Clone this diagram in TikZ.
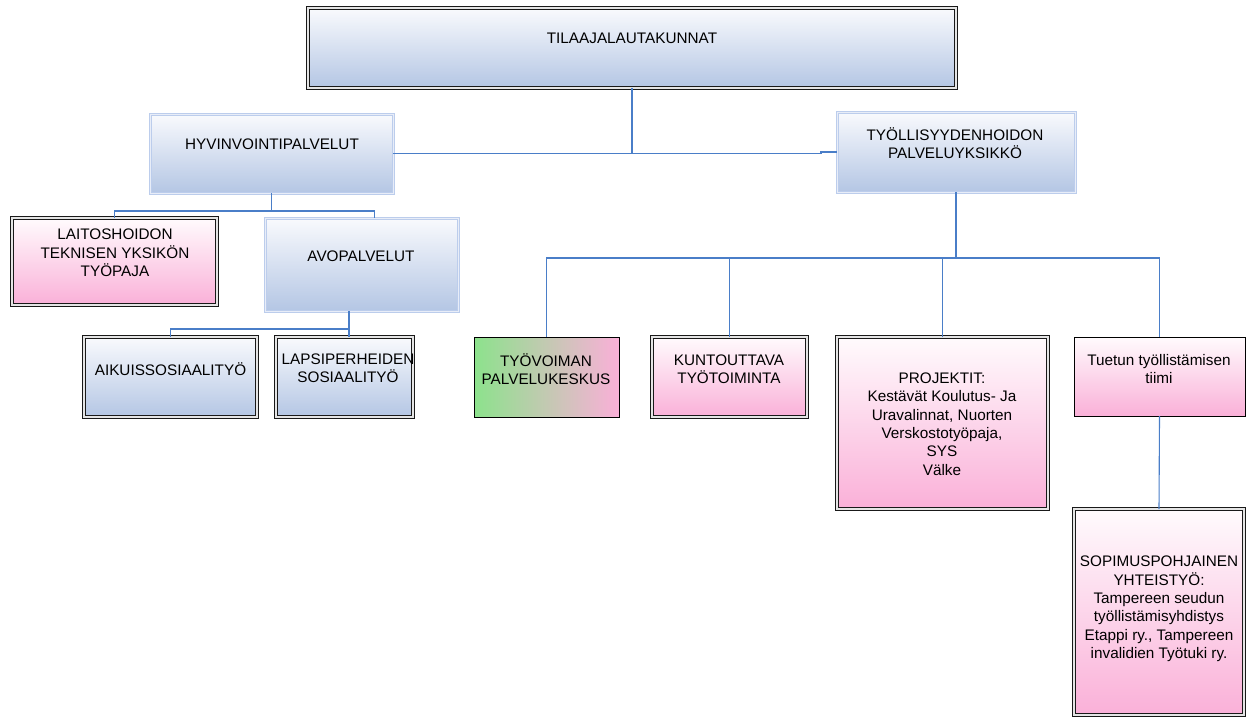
\documentclass[tikz,border=0pt]{standalone}
\usepackage{fontspec}
\setmainfont{Liberation Sans}
\usetikzlibrary{calc}
\definecolor{lineblue}{RGB}{74,126,200}
\definecolor{bluebot}{RGB}{180,198,228}
\definecolor{bluetop}{RGB}{249,250,253}
\definecolor{pinkbot}{RGB}{250,176,216}
\definecolor{pinktop}{RGB}{255,251,253}
\definecolor{greenl}{RGB}{140,226,140}
\definecolor{glowc}{RGB}{188,205,236}
\begin{document}
\begin{tikzpicture}[x=1pt,y=-1pt,
  boxbase/.style={rectangle, inner sep=0pt, outer sep=0pt},
  bluedbl/.style={boxbase, top color=bluetop, bottom color=bluebot, draw=black!90, double=white!80!gray, double distance=1.3pt, line width=1.1pt},
  blueglow/.style={boxbase, top color=bluetop, bottom color=bluebot, draw=glowc, double=glowc!35!white, double distance=0.8pt, line width=1.1pt},
  pinkdbl/.style={boxbase, top color=pinktop, bottom color=pinkbot, draw=black!90, double=white!80!gray, double distance=1.3pt, line width=1.1pt},
  pinksgl/.style={boxbase, top color=pinktop, bottom color=pinkbot, draw=black, line width=0.9pt},
  greenbox/.style={boxbase, left color=greenl, right color=pinkbot, draw=black, line width=0.9pt},
  txt/.style={inner sep=0pt, align=center, font=\fontsize{15.3}{18.4}\selectfont},
  conn/.style={draw=lineblue, line width=1.1pt}
]
\useasboundingbox (0,0) rectangle (1247,718);

% boxes
\node[bluedbl, minimum width=648pt, minimum height=80pt] (top) at (632,48) {};
\node[blueglow, minimum width=243pt, minimum height=79pt] (hyv) at (271.5,153.5) {};
\node[blueglow, minimum width=238pt, minimum height=80pt] (tyo) at (956,152) {};
\node[pinkdbl, minimum width=205pt, minimum height=87pt] (laitos) at (114.5,261.5) {};
\node[blueglow, minimum width=193pt, minimum height=93pt] (avo) at (361.5,264.5) {};
\node[bluedbl, minimum width=173pt, minimum height=80pt] (aikuis) at (170.5,377) {};
\node[bluedbl, minimum width=137pt, minimum height=80pt] (lapsi) at (344.5,377) {};
\node[greenbox, minimum width=145pt, minimum height=80pt] (tyov) at (546.5,377) {};
\node[pinkdbl, minimum width=155pt, minimum height=80pt] (kunt) at (729.5,377) {};
\node[pinkdbl, minimum width=211pt, minimum height=172pt] (proj) at (942.5,423) {};
\node[pinksgl, minimum width=171pt, minimum height=79pt] (tuet) at (1159.5,376.5) {};
\node[pinkdbl, minimum width=170pt, minimum height=206pt] (sopim) at (1159,612) {};

% texts
\node[txt] (topt) at (632,38) {TILAAJALAUTAKUNNAT};
\node[txt] (hyvt) at (272,144) {HYVINVOINTIPALVELUT};
\node[txt] (tyot) at (955,143) {TYÖLLISYYDENHOIDON\\PALVELUYKSIKKÖ};
\node[txt] (laitost) at (115,253) {LAITOSHOIDON\\TEKNISEN YKSIKÖN\\TYÖPAJA};
\node[txt] (avot) at (361,256) {AVOPALVELUT};
\node[txt] (aikuist) at (170.5,369) {AIKUISSOSIAALITYÖ};
\node[txt] (lapsit) at (348,368) {LAPSIPERHEIDEN\\SOSIAALITYÖ};
\node[txt] (tyovt) at (546,369) {TYÖVOIMAN\\PALVELUKESKUS};
\node[txt] (kuntt) at (729,369) {KUNTOUTTAVA\\TYÖTOIMINTA};
\node[txt] (projt) at (942,424) {PROJEKTIT:\\Kestävät Koulutus- Ja\\Uravalinnat, Nuorten\\Verskostotyöpaja,\\SYS\\Välke};
\node[txt] (tuett) at (1159,369) {Tuetun työllistämisen\\tiimi};
\node[txt] (sopimt) at (1159,609) {SOPIMUSPOHJAINEN\\YHTEISTYÖ:\\Tampereen seudun\\työllistämisyhdistys\\Etappi ry., Tampereen\\invalidien Työtuki ry.};

% connectors
\coordinate (j0) at (top.south |- hyv.east);
\coordinate (j1) at ($(tyo.west)+(-16,0)$);
\draw[conn] (top.south) -- (j0);
\draw[conn] (hyv.east) -- (hyv.east -| j1) -- (j1) -- (tyo.west);

\coordinate (h1) at ($(hyv.south)+(0,18)$);
\coordinate (avoin) at ($(avo.north)+(13,0)$);
\draw[conn] (hyv.south) -- (h1);
\draw[conn] (laitos.north) -- (laitos.north |- h1) -- (avoin |- h1) -- (avoin);

\coordinate (avoout) at ($(avo.south)+(-12.5,0)$);
\coordinate (a1) at ($(avoout)+(0,18)$);
\draw[conn] (avoout) -- (a1);
\draw[conn] (aikuis.north) -- (aikuis.north |- a1) -- (a1);
\draw[conn] (a1) -- (a1 |- lapsi.north);

\coordinate (t1) at ($(tyo.south)+(0,66)$);
\draw[conn] (tyo.south) -- (t1);
\draw[conn] (tyov.north) -- (tyov.north |- t1) -- (tuet.north |- t1) -- (tuet.north);
\draw[conn] (kunt.north) -- (kunt.north |- t1);
\draw[conn] (proj.north) -- (proj.north |- t1);

\draw[conn] (tuet.south) -- (sopim.north);
\end{tikzpicture}
\end{document}
